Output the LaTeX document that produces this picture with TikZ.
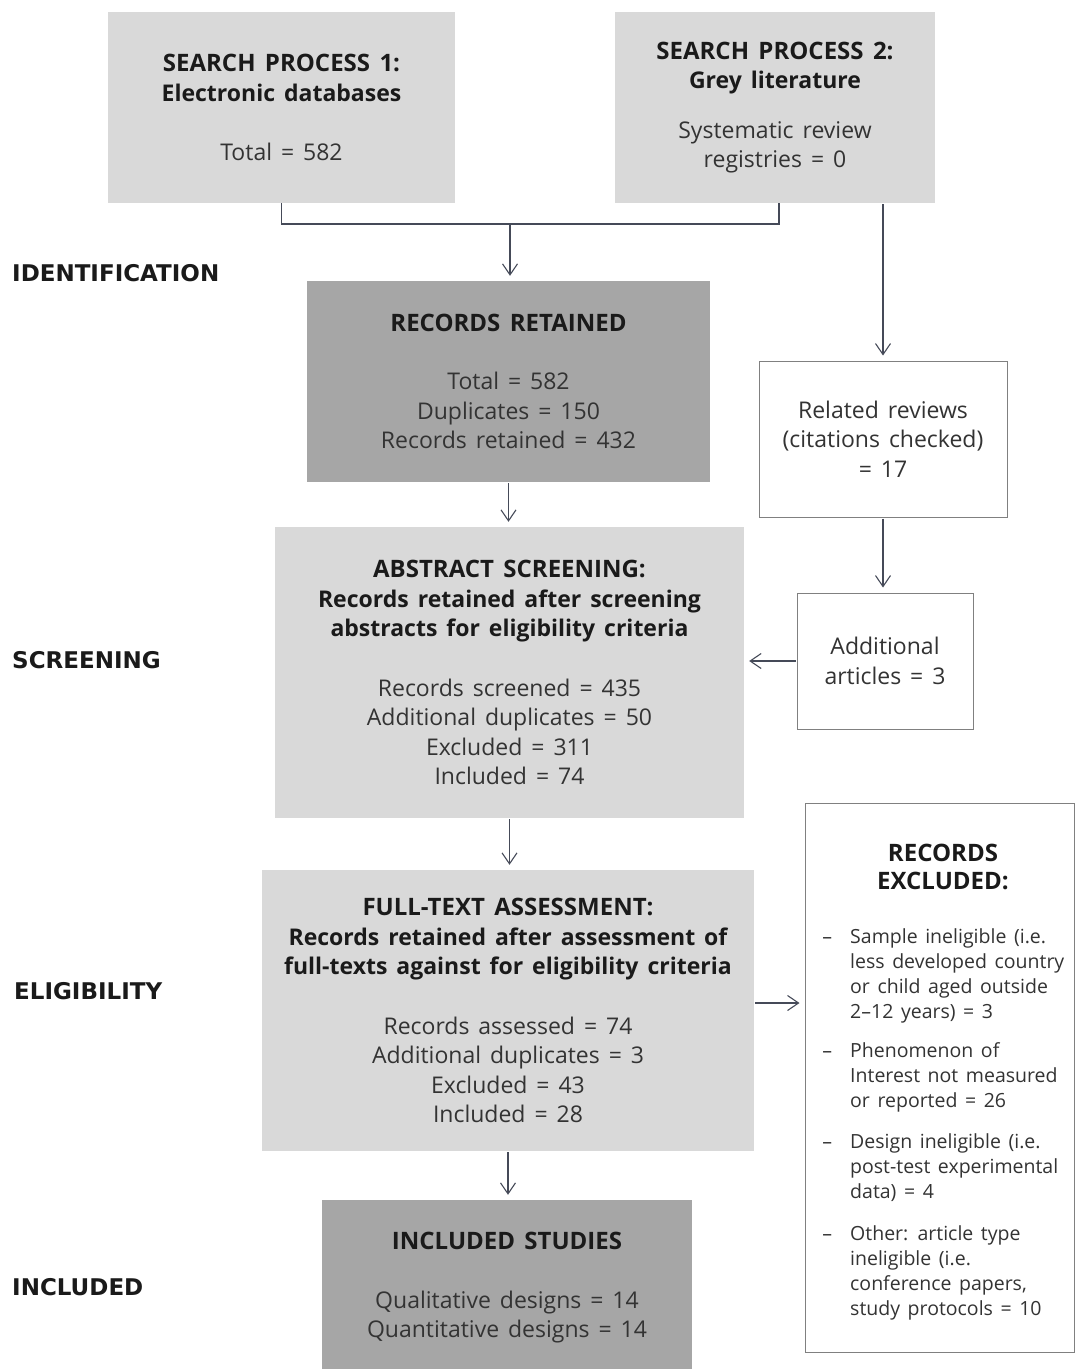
\documentclass[tikz,border=0pt]{standalone}
\usepackage{fontspec}
\setmainfont{Open Sans}[WordSpace=1.5]
\newfontfamily\labfont{DejaVu Sans}
\usetikzlibrary{arrows.meta}
\definecolor{lg}{HTML}{D9D9D9}
\definecolor{dg}{HTML}{A6A6A6}
\definecolor{ln}{HTML}{454A58}
\definecolor{bd}{HTML}{808080}
\definecolor{tx}{HTML}{333333}
\definecolor{hx}{HTML}{1A1A1A}
\newcommand\hdr[1]{{\color{hx}\bfseries #1}}
\newcommand\hdc[1]{{\color{hx}\bfseries\fontsize{24}{29.5}\selectfont #1}}
\begin{document}
\begin{tikzpicture}[x=1pt,y=-1pt,
  box/.style={inner sep=0pt, align=center, text=tx, font=\fontsize{23}{29.5}\selectfont},
  light/.style={box, fill=lg},
  dark/.style={box, fill=dg},
  white/.style={box, draw=bd, line width=1pt, fill=white},
  conn/.style={draw=ln, line width=1.1pt},
  arr/.style={conn, -{Straight Barb[length=11pt,width=15pt]}, shorten >=5pt, shorten <=1pt},
  sec/.style={anchor=west, font=\labfont\bfseries\fontsize{23}{26}\selectfont, text=hx, inner sep=0pt},
  bul/.style={anchor=north west, inner sep=0pt, align=left, text=tx, font=\fontsize{19.5}{25}\selectfont},
]
\useasboundingbox (0,0) rectangle (1075,1369);
\clip (0,0) rectangle (1075,1369);

% section labels
\node[sec] (l1) at (12,273) {IDENTIFICATION};
\node[sec] (l2) at (12,660) {SCREENING};
\node[sec] (l3) at (14,991) {ELIGIBILITY};
\node[sec] (l4) at (12,1287) {INCLUDED};

% boxes
\node[light, minimum width=347, minimum height=191] (sp1) at (281.5,107.5)
  {\hdc{SEARCH PROCESS 1:}\\\hdr{Electronic databases}\\[30pt] Total = 582};
\node[light, minimum width=320, minimum height=191] (sp2) at (775,107.5)
  {\hdc{SEARCH PROCESS 2:}\\\hdr{Grey literature}\\[20pt] Systematic review\\registries = 0};
\node[dark, minimum width=403, minimum height=201] (rr) at (508.5,381.5)
  {\hdc{RECORDS RETAINED}\\[29pt] Total = 582\\Duplicates = 150\\Records retained = 432};
\node[white, minimum width=248, minimum height=156] (rel) at (883,439)
  {Related reviews\\(citations checked)\\= 17};
\node[light, minimum width=469, minimum height=291] (abs) at (509.5,672.5)
  {\hdc{ABSTRACT SCREENING:}\\\hdr{Records retained after screening}\\\hdr{abstracts for eligibility criteria}\\[30pt]
   Records screened = 435\\Additional duplicates = 50\\Excluded = 311\\Included = 74};
\node[white, minimum width=176, minimum height=136] (add) at (885,661)
  {Additional\\articles = 3};
\node[light, minimum width=492, minimum height=281] (ft) at (508,1010.5)
  {\hdc{FULL-TEXT ASSESSMENT:}\\\hdr{Records retained after assessment of}\\\hdr{full-texts against for eligibility criteria}\\[30pt]
   Records assessed = 74\\Additional duplicates = 3\\Excluded = 43\\Included = 28};
\node[dark, minimum width=370, minimum height=176] (inc) at (507,1288)
  {\hdc{INCLUDED STUDIES}\\[29pt]Qualitative designs = 14\\Quantitative designs = 14};
\node[white, minimum width=269, minimum height=549] (ex) at (939.5,1077.5) {};
\node[box, font=\fontsize{24}{28}\selectfont] (ext) at (943,867) {\hdc{RECORDS}\\\hdc{EXCLUDED:}};

% bullets
\newcommand\dsh{\strut\llap{--\hspace{18pt}}}
\node[bul] (b1) at (850,926) {\dsh Sample ineligible (i.e.\\less developed country\\or child aged outside\\2--12 years) = 3};
\node[bul] (b2) at (850,1040) {\dsh Phenomenon of\\Interest not measured\\or reported = 26};
\node[bul] (b3) at (850,1131) {\dsh Design ineligible (i.e.\\post-test experimental\\data) = 4};
\node[bul] (b4) at (850,1223) {\dsh Other: article type\\ineligible (i.e.\\conference papers,\\study protocols = 10};

% connectors
\coordinate (j) at (510,224);
\draw[conn] (sp1.south) |- (j) -| ([xshift=4pt]sp2.south);
\draw[arr] (j) -- (j |- rr.north);
\draw[arr] (sp2.south -| rel.north) -- (rel.north);
\draw[arr] (rr.south) -- (rr.south |- abs.north);
\draw[arr] (rel.south) -- (rel.south |- add.north);
\draw[arr] (add.west) -- (add.west -| abs.east);
\draw[arr] (abs.south) -- (abs.south |- ft.north);
\draw[arr] ([yshift=7.5pt]ft.east) -- ([yshift=7.5pt]ft.east -| ex.west);
\draw[arr] (ft.south) -- (ft.south |- inc.north);
\end{tikzpicture}
\end{document}
